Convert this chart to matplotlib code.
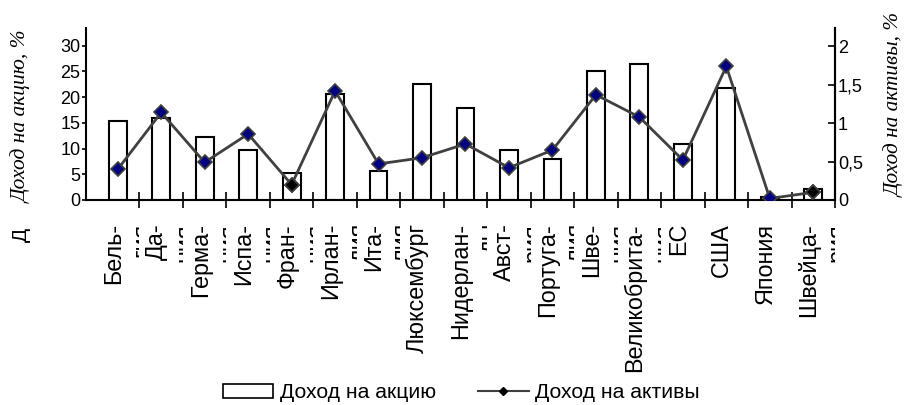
import numpy as np
import matplotlib
matplotlib.use("Agg")
import matplotlib.pyplot as plt
from matplotlib.lines import Line2D
from matplotlib.patches import Patch
from matplotlib.transforms import Bbox, TransformedBbox, offset_copy

plt.rcParams["font.family"] = ["Liberation Sans", "DejaVu Sans"]

# Данные
countries = ["Бель-\nгия", "Да-\nния", "Герма-\nния", "Испа-\nния", "Фран-\nция",
             "Ирлан-\nдия", "Ита-\nлия", "Люксембург", "Нидерлан-\nды", "Авст-\nрия",
             "Португа-\nлия", "Шве-\nция", "Великобрита-\nния", "ЕС", "США",
             "Япония", "Швейца-\nрия"]
eps = [15.3, 16.0, 12.3, 9.7, 5.2, 20.5, 5.6, 22.6, 17.8, 9.7,
       7.9, 25.0, 26.4, 10.8, 21.8, 0.5, 2.2]          # Доход на акцию, %
roa = [0.40, 1.14, 0.49, 0.86, 0.20, 1.42, 0.47, 0.55, 0.73, 0.42,
       0.65, 1.37, 1.08, 0.52, 1.74, 0.02, 0.10]       # Доход на активы, %
dark_points = [4, 16]                                  # маркеры, вышедшие чёрными
left_ticks = [0, 5, 10, 15, 20, 25, 30]
right_ticks = [0, 0.5, 1, 1.5, 2]
right_labels = ["0", "0,5", "1", "1,5", "2"]

x = np.arange(len(countries))

fig = plt.figure(figsize=(9.06, 4.05), dpi=100)
ax = fig.add_axes([86 / 906, 1 - 200 / 405, (835 - 86) / 906, 172 / 405])
ax2 = ax.twinx()

# Столбцы
ax.bar(x, eps, width=0.41, color="white", edgecolor="black", linewidth=1.5)
ax.set_xlim(-0.73, 16.45)
ax.set_ylim(0, 33.4)
ax.set_yticks(left_ticks)
ax.tick_params(axis="y", direction="out", length=3, width=1.2, pad=1, labelsize=13)
ax.set_xticks(x + 0.5)
ax.set_xticklabels([])
ax.tick_params(axis="x", direction="inout", length=11, width=1.2)
for s in ["left", "bottom", "right"]:
    ax.spines[s].set_linewidth(1.5)
ax.spines["top"].set_visible(False)

# Линия
ax2.plot(x, roa, color="#404040", linewidth=2, marker="D", markersize=7,
         markerfacecolor="#000080", markeredgecolor="#404040", markeredgewidth=1.2)
ax2.plot(x[dark_points], np.array(roa)[dark_points], linestyle="none", marker="D",
         markersize=7, markerfacecolor="black", markeredgecolor="#404040",
         markeredgewidth=1.2)
ax2.set_ylim(0, 2.24)
ax2.set_yticks(right_ticks)
ax2.set_yticklabels(right_labels)
ax2.tick_params(axis="y", direction="in", length=5, width=1.2, pad=2, labelsize=13)
ax2.spines["right"].set_linewidth(1.5)
ax2.spines["top"].set_visible(False)
ax2.spines["left"].set_visible(False)
ax2.spines["bottom"].set_visible(False)

# Подписи стран (вторая строка обрезана границей категории)
xtr = ax.get_xaxis_transform()
lab_tr = offset_copy(xtr, fig=fig, x=-16, y=-23, units="dots")
for i, name in enumerate(countries):
    t = ax.text(i, 0, name, transform=lab_tr, rotation=90, ha="left", va="top",
                multialignment="right", fontsize=16.8, linespacing=1.3)
    t.set_clip_box(TransformedBbox(Bbox([[i - 0.5, -3], [i + 0.5, 0]]), xtr))
    t.set_clip_on(True)

# Подписи осей
fig.text(22 / 906, 1 - 117 / 405, "Доход на акцию, %", rotation=90, ha="center",
         va="center", fontsize=15.5, family="Liberation Serif", style="italic")
fig.text(895 / 906, 1 - 105 / 405, "Доход на активы, %", rotation=90, ha="center",
         va="center", fontsize=15.3, family="Liberation Serif", style="italic")
fig.text(21 / 906, 1 - 235 / 405, "Д", rotation=90, ha="center", va="center",
         fontsize=15)

# Легенда
handles = [Patch(facecolor="white", edgecolor="black", linewidth=1.2),
           Line2D([], [], color="#404040", linewidth=1.5, marker="D", markersize=4,
                  markerfacecolor="black", markeredgecolor="black")]
fig.legend(handles, ["Доход на акцию", "Доход на активы"], loc="center",
           bbox_to_anchor=(461 / 906, 1 - 393 / 405), ncol=2, frameon=False,
           fontsize=15.2, handlelength=2.4, handleheight=0.6, handletextpad=0.3,
           columnspacing=2.0, borderpad=0)

fig.savefig("out.png", dpi=100)
